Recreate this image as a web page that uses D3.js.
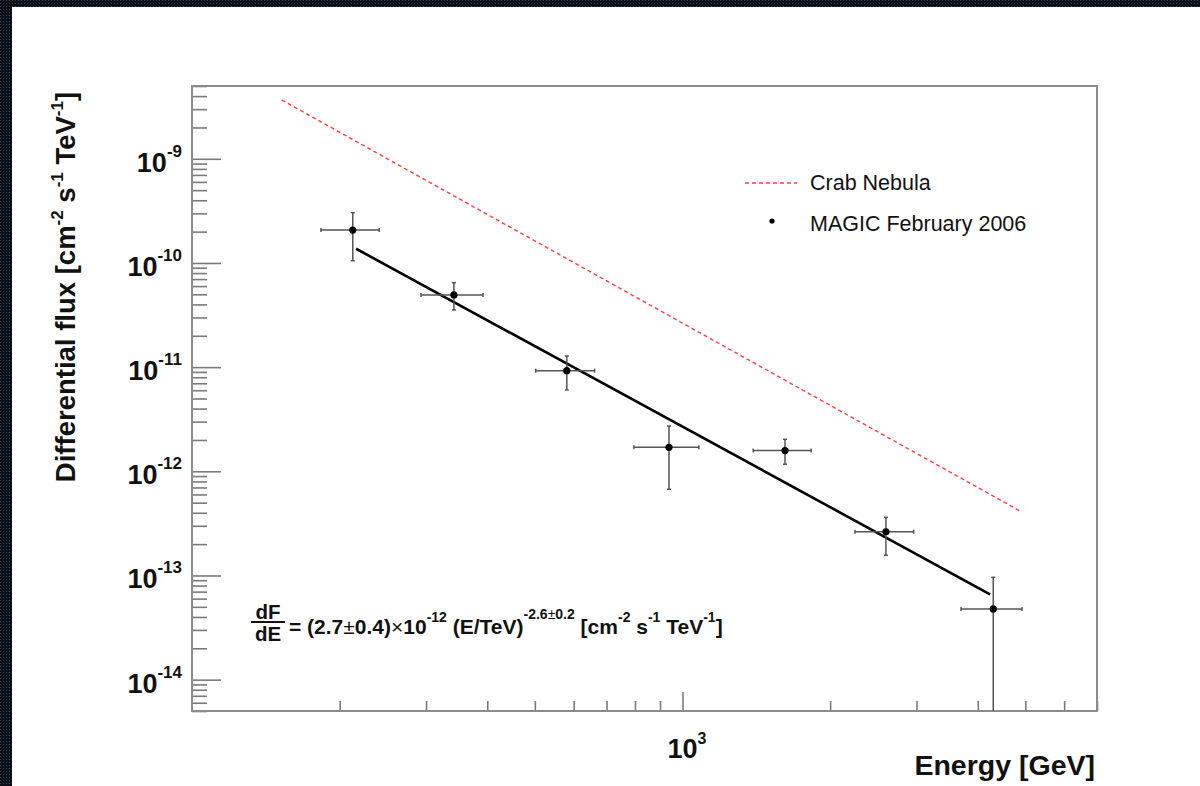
<!DOCTYPE html>
<html>
<head>
<meta charset="utf-8">
<script src="https://cdn.jsdelivr.net/npm/d3@7"></script>
<style>
  html, body { margin: 0; padding: 0; background: #ffffff; }
  svg { display: block; }
  text { font-family: "Liberation Sans", Arial, Helvetica, sans-serif; }
</style>
</head>
<body>
<svg id="chart" width="1200" height="786"></svg>
<script>
// ---------------- data ----------------
const energy      = [212.7, 342, 581, 938.6, 1618, 2599, 4301];          // GeV
const energyLow   = [183.2, 293, 502, 796, 1394, 2247, 3697];
const energyHigh  = [240.9, 392, 662, 1080, 1830, 2960, 4923];
const flux        = [2.07e-10, 4.93e-11, 9.25e-12, 1.70e-12, 1.58e-12, 2.63e-13, 4.77e-14];
const fluxLow     = [1.05e-10, 3.54e-11, 6.04e-12, 6.72e-13, 1.17e-12, 1.56e-13, 1e-16];
const fluxHigh    = [3.04e-10, 6.46e-11, 1.28e-11, 2.72e-12, 2.03e-12, 3.62e-13, 9.6e-14];

const fitEnergy   = [216, 4236];
const fitFlux     = [1.37e-10, 6.6e-14];
const crabEnergy  = [152.4, 4876];
const crabFlux    = [3.67e-9, 4.16e-13];

const yMajorTicks = [1e-9, 1e-10, 1e-11, 1e-12, 1e-13, 1e-14];
const yMajorExp   = ["-9", "-10", "-11", "-12", "-13", "-14"];
const xMajorTicks = [1000];
const xMajorExp   = ["3"];

const legendLabels = ["Crab Nebula", "MAGIC February 2006"];
const xTitle = "Energy [GeV]";

// ---------------- layout ----------------
const svg = d3.select("#chart");
const W = 1200, H = 786;
const plot = {left: 192, right: 1097, top: 86, bottom: 711};

// dark patterned border (top and left)
const defs = svg.append("defs");
const pat = defs.append("pattern").attr("id", "grid").attr("width", 3).attr("height", 3)
  .attr("patternUnits", "userSpaceOnUse");
pat.append("rect").attr("width", 3).attr("height", 3).attr("fill", "#0b0f18");
pat.append("rect").attr("width", 1).attr("height", 1).attr("fill", "#3a4458");
svg.append("rect").attr("x", 0).attr("y", 0).attr("width", W).attr("height", 7).attr("fill", "url(#grid)");
svg.append("rect").attr("x", 0).attr("y", 0).attr("width", 12).attr("height", H).attr("fill", "url(#grid)");

const x = d3.scaleLog().domain([100, 7000]).range([plot.left, plot.right]);
const y = d3.scaleLog().domain([5e-15, 5e-9]).range([plot.bottom, plot.top]).clamp(true);

// minor tick values
const yMinor = [];
for (let d = -15; d <= -9; d++) for (let m = 2; m <= 9; m++) {
  const v = m * Math.pow(10, d);
  if (v >= 5e-15 && v <= 5e-9) yMinor.push(v);
}
const xMinor = [];
for (let d = 2; d <= 3; d++) for (let m = 2; m <= 9; m++) {
  const v = m * Math.pow(10, d);
  if (v > 100 && v <= 7000) xMinor.push(v);
}

const tickColor = "#7a7a7a";
function styleAxis(g) {
  g.select(".domain").remove();
  g.selectAll("line").attr("stroke", tickColor).attr("stroke-width", 1.6);
  g.selectAll("text").remove();
}

svg.append("g").attr("transform", `translate(${plot.left},0)`)
  .call(d3.axisLeft(y).tickValues(yMinor).tickSize(-15).tickFormat(""))
  .call(styleAxis);
svg.append("g").attr("transform", `translate(${plot.left},0)`)
  .call(d3.axisLeft(y).tickValues(yMajorTicks).tickSize(-29).tickFormat(""))
  .call(styleAxis);
svg.append("g").attr("transform", `translate(0,${plot.bottom})`)
  .call(d3.axisBottom(x).tickValues(xMinor).tickSize(-10).tickFormat(""))
  .call(styleAxis);
svg.append("g").attr("transform", `translate(0,${plot.bottom})`)
  .call(d3.axisBottom(x).tickValues(xMajorTicks).tickSize(-19).tickFormat(""))
  .call(styleAxis);

// frame
svg.append("rect")
  .attr("x", plot.left).attr("y", plot.top)
  .attr("width", plot.right - plot.left).attr("height", plot.bottom - plot.top)
  .attr("fill", "none").attr("stroke", "#8c8c8c").attr("stroke-width", 2);

// y tick labels
const yl = svg.append("g");
yMajorTicks.forEach((v, i) => {
  const t = yl.append("text").attr("x", 182).attr("y", y(v) + 13)
    .attr("text-anchor", "end").attr("font-weight", "bold").attr("fill", "#111");
  t.append("tspan").attr("font-size", 27).text("10");
  t.append("tspan").attr("font-size", 17).attr("dy", -15).text(yMajorExp[i]);
});

// x tick labels
xMajorTicks.forEach((v, i) => {
  const t = svg.append("text").attr("x", x(v) - 15).attr("y", 758)
    .attr("font-weight", "bold").attr("fill", "#111");
  t.append("tspan").attr("font-size", 27).text("10");
  t.append("tspan").attr("font-size", 16).attr("dy", -14).text(xMajorExp[i]);
});

// axis titles
svg.append("text").attr("x", 1095).attr("y", 775).attr("text-anchor", "end")
  .attr("font-weight", "bold").attr("font-size", 28.5).attr("fill", "#111").text(xTitle);

const yt = svg.append("text").attr("transform", "translate(75,287) rotate(-90)")
  .attr("text-anchor", "middle").attr("font-weight", "bold").attr("font-size", 27.5).attr("fill", "#111");
yt.append("tspan").text("Differential flux [cm");
yt.append("tspan").attr("font-size", 17).attr("dy", -12).text("-2");
yt.append("tspan").attr("dy", 12).text(" s");
yt.append("tspan").attr("font-size", 17).attr("dy", -12).text("-1");
yt.append("tspan").attr("dy", 12).text(" TeV");
yt.append("tspan").attr("font-size", 17).attr("dy", -12).text("-1");
yt.append("tspan").attr("dy", 12).text("]");

// Crab Nebula dashed line
const line = d3.line().x(d => x(d[0])).y(d => y(d[1]));
svg.append("path")
  .datum(crabEnergy.map((e, i) => [e, crabFlux[i]]))
  .attr("d", line).attr("fill", "none")
  .attr("stroke", "#ff4040").attr("stroke-width", 1.4).attr("stroke-dasharray", "4,3");

// fit line
svg.append("path")
  .datum(fitEnergy.map((e, i) => [e, fitFlux[i]]))
  .attr("d", line).attr("fill", "none")
  .attr("stroke", "#000").attr("stroke-width", 2.6);

// error bars
const pts = energy.map((e, i) => ({e, f: flux[i], el: energyLow[i], eh: energyHigh[i], fl: fluxLow[i], fh: fluxHigh[i]}));
const eb = svg.append("g").attr("stroke", "#555").attr("stroke-width", 1.5).attr("fill", "none");
pts.forEach(p => {
  eb.append("line").attr("x1", x(p.el)).attr("x2", x(p.eh)).attr("y1", y(p.f)).attr("y2", y(p.f));
  eb.append("line").attr("x1", x(p.e)).attr("x2", x(p.e)).attr("y1", y(p.fh)).attr("y2", y(p.fl));
  // caps
  eb.append("line").attr("x1", x(p.el)).attr("x2", x(p.el)).attr("y1", y(p.f) - 2).attr("y2", y(p.f) + 2);
  eb.append("line").attr("x1", x(p.eh)).attr("x2", x(p.eh)).attr("y1", y(p.f) - 2).attr("y2", y(p.f) + 2);
  eb.append("line").attr("x1", x(p.e) - 2).attr("x2", x(p.e) + 2).attr("y1", y(p.fh)).attr("y2", y(p.fh));
  if (p.fl > 5e-15) eb.append("line").attr("x1", x(p.e) - 2).attr("x2", x(p.e) + 2).attr("y1", y(p.fl)).attr("y2", y(p.fl));
});
svg.append("g").selectAll("circle").data(pts).join("circle")
  .attr("cx", d => x(d.e)).attr("cy", d => y(d.f)).attr("r", 3.6).attr("fill", "#000");

// legend
svg.append("line").attr("x1", 745).attr("x2", 797).attr("y1", 183).attr("y2", 183)
  .attr("stroke", "#ff4040").attr("stroke-width", 1.4).attr("stroke-dasharray", "4,3");
svg.append("circle").attr("cx", 772).attr("cy", 221).attr("r", 2.6).attr("fill", "#000");
svg.append("text").attr("x", 810).attr("y", 190).attr("font-size", 21.5).attr("fill", "#111").text(legendLabels[0]);
svg.append("text").attr("x", 810).attr("y", 231).attr("font-size", 21.5).attr("fill", "#111").text(legendLabels[1]);

// formula annotation
const fg = svg.append("g").attr("font-weight", "bold").attr("fill", "#111");
fg.append("text").attr("x", 268).attr("y", 619).attr("text-anchor", "middle").attr("font-size", 20.5).text("dF");
fg.append("line").attr("x1", 251).attr("x2", 285).attr("y1", 622).attr("y2", 622).attr("stroke", "#111").attr("stroke-width", 2);
fg.append("text").attr("x", 268).attr("y", 641).attr("text-anchor", "middle").attr("font-size", 20.5).text("dE");
const ft = fg.append("text").attr("x", 289).attr("y", 634).attr("font-size", 21);
ft.append("tspan").text("= (2.7");
ft.append("tspan").attr("font-weight", "normal").text("±");
ft.append("tspan").text("0.4)");
ft.append("tspan").attr("font-weight", "normal").text("×");
ft.append("tspan").text("10");
ft.append("tspan").attr("font-size", 14).attr("dy", -12).text("-12");
ft.append("tspan").attr("dy", 12).text(" (E/TeV)");
ft.append("tspan").attr("font-size", 14).attr("dy", -15).text("-2.6");
ft.append("tspan").attr("font-size", 14).attr("font-weight", "normal").text("±");
ft.append("tspan").attr("font-size", 14).text("0.2");
ft.append("tspan").attr("dy", 15).text("  [cm");
ft.append("tspan").attr("font-size", 14).attr("dy", -12).text("-2");
ft.append("tspan").attr("dy", 12).text(" s");
ft.append("tspan").attr("font-size", 14).attr("dy", -12).text("-1");
ft.append("tspan").attr("dy", 12).text(" TeV");
ft.append("tspan").attr("font-size", 14).attr("dy", -12).text("-1");
ft.append("tspan").attr("dy", 12).text("]");
</script>
</body>
</html>
